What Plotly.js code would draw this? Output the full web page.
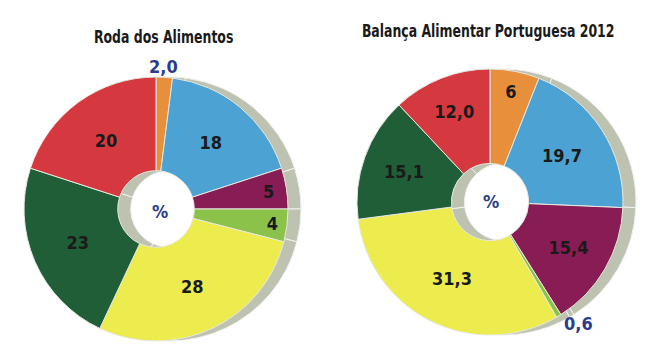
<!DOCTYPE html>
<html><head><meta charset="utf-8">
<script src="https://cdn.plot.ly/plotly-3.0.1.min.js"></script>
<style>html,body{margin:0;padding:0;background:#fff}#c{width:653px;height:364px}</style>
</head><body><div id="c"></div>
<script>
// clockwise from 12 o'clock
var categories = ["Gorduras e óleos", "Laticínios", "Carne, pescado e ovos", "Leguminosas", "Cereais", "Hortícolas", "Fruta"];
var rodaValues = [2.0, 18, 5, 4, 28, 23, 20];
var rodaLabels = ["2,0", "18", "5", "4", "28", "23", "20"];
var balancaValues = [6, 19.7, 15.4, 0.6, 31.3, 15.1, 12.0];
var balancaLabels = ["6", "19,7", "15,4", "0,6", "31,3", "15,1", "12,0"];
var titles = ["Roda dos Alimentos", "Balança Alimentar Portuguesa 2012"];
var colors = ["#E78F3A", "#4CA2D2", "#881C54", "#8BC34A", "#ECEC4E", "#1F5E36", "#D5393F"];
var W = 653, H = 364;
var FONT = "Liberation Sans Narrow, DejaVu Sans Condensed, Arial Narrow, sans-serif";

function dom(cx, cy, r, dx) {
  return {x: [(cx - r + dx) / W, (cx + r + dx) / W], y: [(H - cy - r) / H, (H - cy + r) / H]};
}
function bold(a) { return a.map(function (s) { return "<b>" + s + "</b>"; }); }

function pair(values, labels, cx, cy, r, outsideIdx, annotIdx) {
  var pos = values.map(function (v, i) { return i === outsideIdx ? "outside" : "inside"; });
  var txt = bold(labels).map(function (s, i) { return i === annotIdx ? "" : s; });
  var shadow = {
    type: "pie", values: values, labels: categories, sort: false, direction: "clockwise",
    hole: 0.29, domain: dom(cx, cy, r, 13), textinfo: "none", hoverinfo: "skip",
    marker: {colors: values.map(function () { return "#BEC2B1"; }), line: {color: "#f2f2ee", width: 1}},
    showlegend: false
  };
  var main = {
    type: "pie", values: values, labels: categories, text: txt, sort: false, direction: "clockwise",
    hole: 0.29, domain: dom(cx, cy, r, 0), textinfo: "text", textposition: pos,
    insidetextorientation: "horizontal",
    insidetextfont: {family: FONT, size: 18, color: "#1a1a1a"},
    outsidetextfont: {family: FONT, size: 18, color: "#2A3C8A"},
    marker: {colors: colors, line: {color: "#e8e8e0", width: 1}},
    showlegend: false
  };
  return [shadow, main];
}

var data = pair(rodaValues, rodaLabels, 156, 209, 132, -1, 0).concat(pair(balancaValues, balancaLabels, 490, 202, 133, 3, -1));

function ann(text, x, y, color, size) {
  return {text: "<b>" + text + "</b>", x: x / W, y: 1 - y / H, xref: "paper", yref: "paper",
    xanchor: "center", yanchor: "middle", showarrow: false, font: {family: FONT, size: size, color: color}};
}

var layout = {
  width: W, height: H, margin: {l: 0, r: 0, t: 0, b: 0}, paper_bgcolor: "#fff",
  showlegend: false,
  annotations: [
    ann(titles[0], 164, 37, "#1a1a1a", 18),
    ann(titles[1], 488, 30, "#1a1a1a", 18),
    ann("%", 160, 211, "#2A3C8A", 18),
    ann("%", 491, 201, "#2A3C8A", 18),
    ann(rodaLabels[0], 164, 66, "#2A3C8A", 18)
  ]
};
Plotly.newPlot("c", data, layout, {staticPlot: true, displayModeBar: false}).then(function (gd) {
  // condense the title lettering horizontally, like the reference's condensed face
  var texts = gd.querySelectorAll(".annotation-text");
  [0, 1].forEach(function (k) {
    var t = texts[k];
    if (!t) return;
    var b = t.getBBox();
    var cx = b.x + b.width / 2;
    var prev = t.getAttribute("transform") || "";
    t.setAttribute("transform", "translate(" + cx + ",0) scale(0.77,1) translate(" + (-cx) + ",0) " + prev);
  });
});
</script></body></html>
